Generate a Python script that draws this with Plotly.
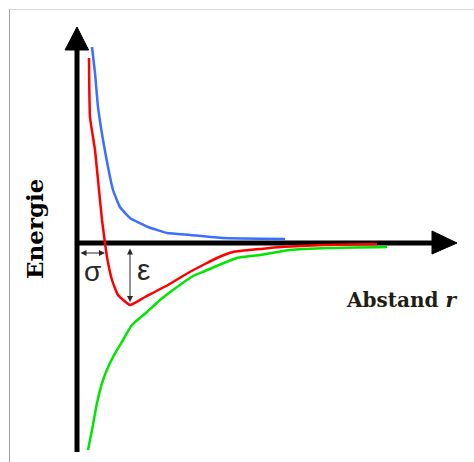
import plotly.graph_objects as go

# Data (r: distance, E: energy; arbitrary units)
r_rep = [0.75, 0.9, 1.05, 1.3, 1.55, 1.8, 2.15, 2.65, 3.55, 4.5, 5.65, 7.3, 10.4]
E_rep = [9.8, 8.5, 6.8, 5.15, 3.8, 2.65, 1.8, 1.25, 0.8, 0.5, 0.4, 0.25, 0.2]

r_tot = [0.6, 0.65, 0.9, 1.05, 1.25, 1.4, 1.5, 1.75, 2.05, 2.65, 3.4, 4.55, 5.55,
         6.4, 7.0, 7.8, 9.15, 10.15, 12.3, 15.0]
E_tot = [9.25, 6.3, 4.65, 3.15, 1.15, 0.0, -0.7, -1.85, -2.6, -3.1, -2.7, -2.1, -1.5,
         -1.05, -0.75, -0.45, -0.3, -0.2, -0.1, -0.05]

r_att = [0.55, 0.75, 1.0, 1.3, 1.8, 2.3, 2.75, 3.5, 4.15, 4.8, 5.8, 6.4, 8.0,
         9.15, 10.65, 12.65, 15.5]
E_att = [-10.35, -9.35, -8.0, -6.85, -5.7, -4.85, -4.1, -3.45, -2.85, -2.35, -1.65,
         -1.4, -0.75, -0.6, -0.35, -0.25, -0.2]

sigma_r = 1.4      # zero crossing
eps_r = 2.65       # position of minimum
eps_E = -2.95

fig = go.Figure()
fig.add_trace(go.Scatter(x=r_rep, y=E_rep, mode="lines",
                         line=dict(color="rgb(60,110,255)", width=2.5, shape="spline", smoothing=0.4)))
fig.add_trace(go.Scatter(x=r_att, y=E_att, mode="lines",
                         line=dict(color="rgb(0,230,0)", width=2.5, shape="spline", smoothing=0.5)))
fig.add_trace(go.Scatter(x=r_tot, y=E_tot, mode="lines",
                         line=dict(color="rgb(255,0,0)", width=2.5, shape="spline", smoothing=0.4)))

# Axes drawn as arrows
Y_BOTTOM, Y_HEAD, Y_TIP = -10.45, 9.65, 10.8
X_HEAD, X_TIP = 17.75, 19.0
shapes = [
    dict(type="line", x0=0, x1=0, y0=Y_BOTTOM, y1=Y_HEAD, line=dict(color="black", width=5), layer="below"),
    dict(type="path", path=f"M -0.6 {Y_HEAD} L 0.58 {Y_HEAD} L 0 {Y_TIP} Z",
         fillcolor="black", line=dict(color="black", width=1)),
    dict(type="line", x0=0, x1=X_HEAD, y0=0, y1=0, line=dict(color="black", width=5), layer="below"),
    dict(type="path", path=f"M {X_HEAD} 0.6 L {X_HEAD} -0.55 L {X_TIP} 0 Z",
         fillcolor="black", line=dict(color="black", width=1)),
    # frame lines (top & left)
    dict(type="line", xref="paper", yref="paper", x0=9/474, x1=1, y0=1-9.5/462, y1=1-9.5/462,
         line=dict(color="rgb(215,215,215)", width=1)),
    dict(type="line", xref="paper", yref="paper", x0=9.5/474, x1=9.5/474, y0=0, y1=1-9.5/462,
         line=dict(color="rgb(160,160,160)", width=1)),
]

annotations = [
    # epsilon arrow
    dict(x=eps_r, y=eps_E, ax=eps_r, ay=-0.2, xref="x", yref="y", axref="x", ayref="y",
         text="", showarrow=True, arrowhead=2, startarrowhead=2, arrowside="end+start",
         arrowsize=1.2, arrowwidth=1, arrowcolor="rgb(40,40,40)"),
    # sigma arrow
    dict(x=sigma_r, y=-0.5, ax=0.1, ay=-0.5, xref="x", yref="y", axref="x", ayref="y",
         text="", showarrow=True, arrowhead=2, startarrowhead=2, arrowside="end+start",
         arrowsize=1.2, arrowwidth=1, arrowcolor="rgb(40,40,40)"),
    dict(x=0.75, y=-1.4, text="σ", showarrow=False,
         font=dict(family="Liberation Sans", size=28, color="rgb(40,40,40)")),
    dict(x=3.3, y=-1.3, text="ε", showarrow=False,
         font=dict(family="Liberation Sans", size=30, color="rgb(40,40,40)")),
    dict(x=-2.15, y=0.7, text="<b>Energie</b>", textangle=-90, showarrow=False,
         font=dict(family="DejaVu Serif", size=23, color="black")),
    dict(x=16.2, y=-2.85, text="<b>Abstand <i>r</i></b>", showarrow=False,
         font=dict(family="DejaVu Serif", size=20, color="rgb(30,30,20)")),
]

fig.update_layout(
    width=474, height=462,
    margin=dict(l=0, r=0, t=0, b=0),
    paper_bgcolor="white", plot_bgcolor="white",
    showlegend=False,
    xaxis=dict(range=[-3.85, 19.85], visible=False, showgrid=False, zeroline=False),
    yaxis=dict(range=[-10.95, 12.15], visible=False, showgrid=False, zeroline=False),
    shapes=shapes, annotations=annotations,
)

fig.write_html("out.html", config={"displayModeBar": False},
               post_script="document.body.style.margin='0';document.body.style.overflow='hidden';")
